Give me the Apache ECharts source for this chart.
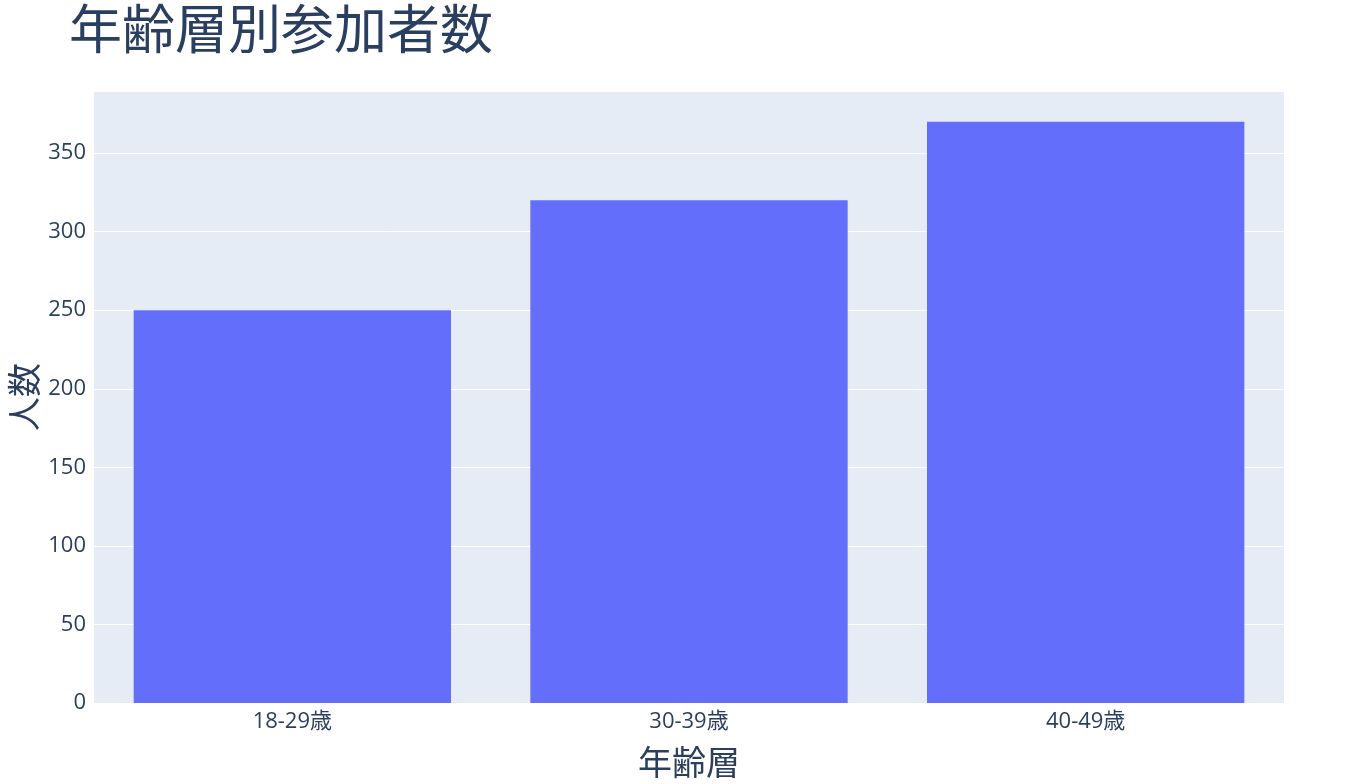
<!DOCTYPE html>
<html>
	<head>
		<meta charset="utf-8" />
		<title>年齢層別参加者数</title>
		<script src="https://cdn.jsdelivr.net/npm/echarts@6/dist/echarts.min.js" type="text/javascript" charset="utf-8"></script>
		<style type="text/css">
			html, body { margin: 0; padding: 0; background: #fff; }
			#main { width: 1360px; height: 784px; }
		</style>
	</head>
	<body>
		<div id="main"></div>
		<script type="text/javascript">
			// データ
			var categories = ['18-29歳', '30-39歳', '40-49歳'];
			var counts = [250, 320, 370];
			var yTicks = [0, 50, 100, 150, 200, 250, 300, 350];

			var font = '"Open Sans", "Noto Sans CJK JP", sans-serif';
			var textColor = '#2a3f5f';

			var myChart = echarts.init(document.getElementById('main'));
			var option = {
				animation: false,
				title: {
					text: '年齢層別参加者数',
					left: 64,
					top: 2,
					textStyle: { fontFamily: font, fontSize: 53, fontWeight: 'normal', color: textColor }
				},
				grid: {
					left: 94, right: 76, top: 91, bottom: 81,
					outerBoundsMode: 'none',
					containLabel: false,
					show: true,
					backgroundColor: '#E5ECF6',
					borderWidth: 0
				},
				xAxis: {
					type: 'category',
					data: categories,
					name: '年齢層',
					nameLocation: 'middle',
					nameGap: 45,
					nameTextStyle: { fontFamily: font, fontSize: 34, color: textColor },
					axisLine: { show: false },
					axisTick: { show: false },
					axisLabel: { fontFamily: font, fontSize: 22, color: textColor, margin: 8 }
				},
				yAxis: {
					type: 'value',
					min: 0,
					max: 389.5,
					interval: 50,
					name: '人数',
					nameLocation: 'middle',
					nameGap: 50,
					nameMoveOverlap: false,
					nameTextStyle: { fontFamily: font, fontSize: 34, color: textColor },
					axisLine: { show: false },
					axisTick: { show: false },
					axisLabel: {
						fontFamily: font, fontSize: 22, color: textColor, margin: 8,
						showMaxLabel: false,
						formatter: function (v) { return yTicks.indexOf(v) >= 0 ? String(v) : ''; }
					},
					splitLine: { lineStyle: { color: '#ffffff', width: 1 } }
				},
				series: [{
					type: 'bar',
					data: counts,
					barCategoryGap: '20%',
					itemStyle: { color: '#636EFA' }
				}]
			};
			myChart.setOption(option);
		</script>
	</body>
</html>
